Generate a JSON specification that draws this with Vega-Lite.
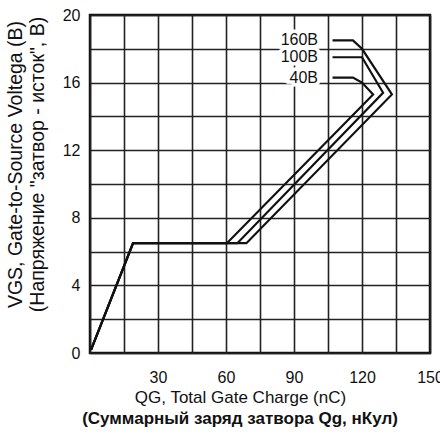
{
  "$schema": "https://vega.github.io/schema/vega-lite/v6.json",
  "width": 340,
  "height": 338,
  "autosize": "none",
  "padding": {"left": 90, "top": 15, "right": 10, "bottom": 82},
  "background": "white",
  "config": {
    "font": "Liberation Sans",
    "view": {"stroke": "#111", "strokeWidth": 2.5},
    "axis": {"grid": true, "gridColor": "#222", "gridWidth": 1.6, "gridOpacity": 1, "domain": false, "ticks": false, "labelColor": "#111", "titleColor": "#111", "labelFont": "Liberation Sans", "titleFont": "Liberation Sans"}
  },
  "title": {
    "text": "(Суммарный заряд затвора Qg, нКул)",
    "orient": "bottom",
    "fontSize": 17,
    "fontWeight": "bold",
    "color": "#111",
    "anchor": "middle",
    "dx": -20,
    "offset": 6
  },
  "encoding": {
    "x": {
      "field": "q", "type": "quantitative",
      "scale": {"domain": [0, 150], "nice": false},
      "axis": {
        "grid": true,
        "values": [0, 15, 30, 45, 60, 75, 90, 105, 120, 135, 150],
        "labelExpr": "datum.value % 30 == 0 && datum.value > 0 ? datum.label : ''",
        "labelFontSize": 16,
        "labelPadding": 16,
        "labelFlush": false,
        "labelOverlap": false,
        "title": "QG, Total Gate Charge (nC)",
        "titleFontSize": 17,
        "titleFontWeight": "normal",
        "titleX": 150,
        "titleY": 36,
        "titleBaseline": "top"
      }
    },
    "y": {
      "field": "v", "type": "quantitative",
      "scale": {"domain": [0, 20], "nice": false},
      "axis": {
        "grid": true,
        "values": [0, 2, 4, 6, 8, 10, 12, 14, 16, 18, 20],
        "labelExpr": "datum.value % 4 == 0 ? datum.label : ''",
        "labelFontSize": 16,
        "labelPadding": 10,
        "labelFlush": false,
        "labelOverlap": false,
        "title": ["VGS, Gate-to-Source Voltega (B)", "(Напряжение \"затвор - исток\", В)"],
        "titleFontSize": 19.5,
        "titleFontWeight": "normal",
        "titleAngle": -90,
        "titleX": -84,
        "titleY": 149,
        "titleAlign": "center",
        "titleBaseline": "top",
        "titleLineHeight": 22
      }
    }
  },
  "layer": [
    {
      "data": {"name": "labels", "values": [
        {"label": "160B", "q": 100.6, "v": 18.5},
        {"label": "100B", "q": 100.6, "v": 17.5},
        {"label": "40B", "q": 100.6, "v": 16.3}
      ]},
      "mark": {"type": "text", "align": "right", "baseline": "middle", "fontSize": 16, "color": "white", "stroke": "white", "strokeWidth": 7},
      "encoding": {"text": {"field": "label"}}
    },
    {
      "data": {
        "values": [
          {"series": "40B", "i": 1, "q": 0.5, "v": 0.2},
          {"series": "40B", "i": 2, "q": 19, "v": 6.5},
          {"series": "40B", "i": 3, "q": 60.4, "v": 6.5},
          {"series": "40B", "i": 4, "q": 124.9, "v": 15.3},
          {"series": "40B", "i": 5, "q": 120, "v": 16.0},
          {"series": "40B", "i": 6, "q": 116, "v": 16.3},
          {"series": "40B", "i": 7, "q": 107, "v": 16.3},
          {"series": "100B", "i": 1, "q": 0.5, "v": 0.2},
          {"series": "100B", "i": 2, "q": 19, "v": 6.5},
          {"series": "100B", "i": 3, "q": 65, "v": 6.5},
          {"series": "100B", "i": 4, "q": 129.3, "v": 15.4},
          {"series": "100B", "i": 5, "q": 120, "v": 17.5},
          {"series": "100B", "i": 6, "q": 107, "v": 17.5},
          {"series": "160B", "i": 1, "q": 0.5, "v": 0.2},
          {"series": "160B", "i": 2, "q": 19, "v": 6.5},
          {"series": "160B", "i": 3, "q": 69, "v": 6.5},
          {"series": "160B", "i": 4, "q": 133.2, "v": 15.3},
          {"series": "160B", "i": 5, "q": 120, "v": 18.0},
          {"series": "160B", "i": 6, "q": 116, "v": 18.5},
          {"series": "160B", "i": 7, "q": 107, "v": 18.5}
        ]
      },
      "mark": {"type": "line", "color": "#111", "strokeWidth": 2.2},
      "encoding": {
        "detail": {"field": "series"},
        "order": {"field": "i"}
      }
    },
    {
      "data": {"name": "labels"},
      "mark": {"type": "text", "align": "right", "baseline": "middle", "fontSize": 16, "color": "#111"},
      "encoding": {"text": {"field": "label"}}
    }
  ]
}
